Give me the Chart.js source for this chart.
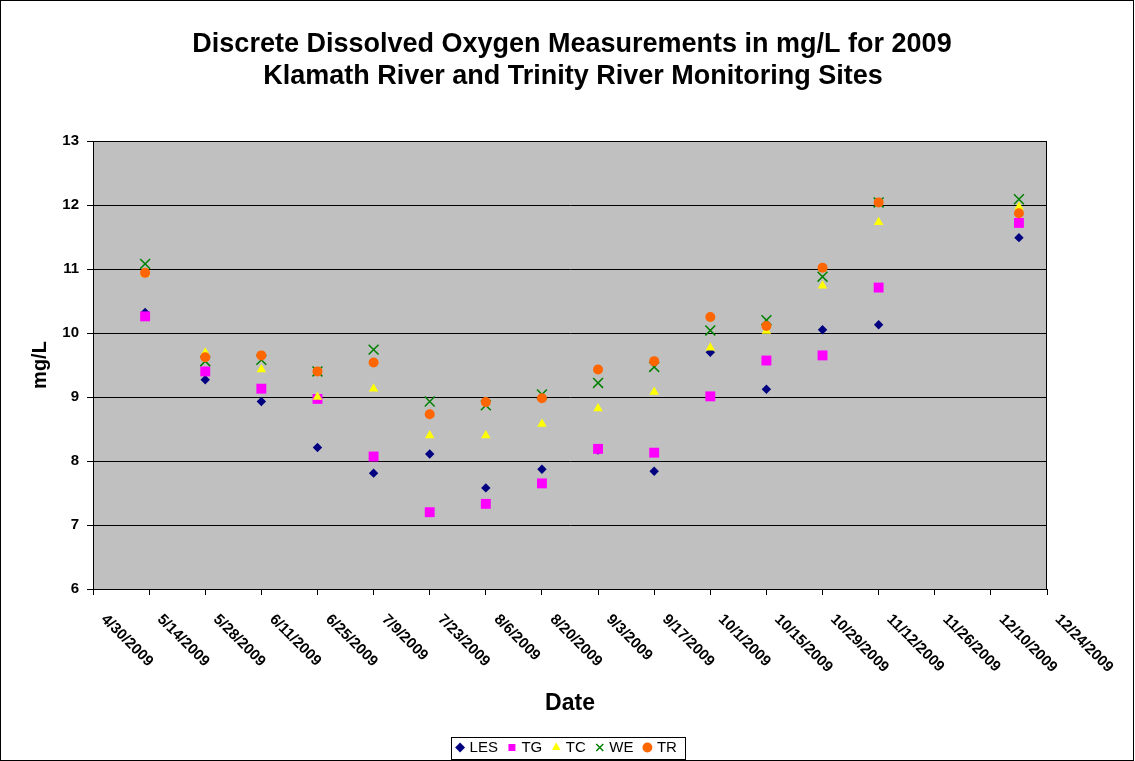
<!DOCTYPE html>
<html><head><meta charset="utf-8">
<script src="https://cdn.jsdelivr.net/npm/chart.js@4.4.1/dist/chart.umd.min.js"></script>
<style>html,body{margin:0;padding:0;background:#fff}canvas{display:block}</style>
</head><body>
<canvas id="c" width="1135" height="761" style="width:1135px;height:761px"></canvas>
<script>
const titleLines = ['Discrete Dissolved Oxygen Measurements in mg/L for 2009', 'Klamath River and Trinity River Monitoring Sites'];
const xAxisTitle = 'Date';
const yAxisTitle = 'mg/L';
const startDate = '4/30/2009';
const endDate = '12/24/2009';
const xTickLabels = ['4/30/2009','5/14/2009','5/28/2009','6/11/2009','6/25/2009','7/9/2009','7/23/2009','8/6/2009','8/20/2009','9/3/2009','9/17/2009','10/1/2009','10/15/2009','10/29/2009','11/12/2009','11/26/2009','12/10/2009','12/24/2009'];
const sampleDates = ['5/13/2009','5/28/2009','6/11/2009','6/25/2009','7/9/2009','7/23/2009','8/6/2009','8/20/2009','9/3/2009','9/17/2009','10/1/2009','10/15/2009','10/29/2009','11/12/2009','12/17/2009'];
const LES = [10.32, 9.27, 8.93, 8.21, 7.81, 8.11, 7.58, 7.87, 8.17, 7.84, 9.70, 9.12, 10.05, 10.13, 11.49];
const TG  = [10.26, 9.40, 9.13, 8.97, 8.07, 7.20, 7.33, 7.65, 8.19, 8.13, 9.01, 9.57, 9.65, 10.71, 11.72];
const TC  = [10.92, 9.69, 9.43, 9.00, 9.13, 8.40, 8.40, 8.58, 8.82, 9.08, 9.77, 10.03, 10.74, 11.73, 11.97];
const WE  = [11.08, 9.56, 9.58, 9.40, 9.74, 8.93, 8.87, 9.04, 9.22, 9.47, 10.04, 10.20, 10.88, 12.04, 12.09];
const TR  = [10.94, 9.62, 9.65, 9.40, 9.54, 8.73, 8.92, 8.98, 9.43, 9.56, 10.25, 10.11, 11.02, 12.04, 11.87];
const yMin = 6, yMax = 13, yStep = 1, xStepDays = 14;

function toUTC(s){ const p = s.split('/').map(Number); return Date.UTC(p[2], p[0]-1, p[1]); }
function dayOffset(s){ return Math.round((toUTC(s) - toUTC(startDate)) / 86400000); }
function pts(vals){ return sampleDates.map((d,i)=>({x: dayOffset(d), y: vals[i]})); }

const FONT = 'Arial, "Liberation Sans", Helvetica, sans-serif';

const datasets = [
  {label:'LES', data:pts(LES), pointStyle:'rectRot', pointRadius:4.7, backgroundColor:'#000080', borderColor:'#000080', borderWidth:0, order:5},
  {label:'TG',  data:pts(TG),  pointStyle:'rect', pointRadius:7, backgroundColor:'#FF00FF', borderColor:'#FF00FF', borderWidth:0, order:4},
  {label:'TC',  data:pts(TC),  pointStyle:'triangle', pointRadius:5.5, backgroundColor:'#FFFF00', borderColor:'#FFFF00', borderWidth:0, order:3},
  {label:'WE',  data:pts(WE),  pointStyle:'crossRot', pointRadius:7, backgroundColor:'#008000', borderColor:'#008000', borderWidth:1.5, order:2},
  {label:'TR',  data:pts(TR),  pointStyle:'circle', pointRadius:5, backgroundColor:'#FF6600', borderColor:'#FF6600', borderWidth:0, order:1}
];
datasets.forEach(d=>{ d.showLine=false; d.pointHoverRadius=d.pointRadius; });

const deco = {
  id:'deco',
  beforeDraw(chart){
    const ctx = chart.ctx, a = chart.chartArea;
    ctx.save();
    ctx.fillStyle = '#fff'; ctx.fillRect(0,0,chart.width,chart.height);
    ctx.fillStyle = '#C0C0C0'; ctx.fillRect(a.left, a.top, a.right-a.left, a.bottom-a.top);
    ctx.restore();
  },
  beforeDatasetsDraw(chart){
    const ctx = chart.ctx, a = chart.chartArea;
    ctx.save(); ctx.strokeStyle='#000'; ctx.lineWidth=1;
    ctx.strokeRect(Math.round(a.left)+0.5, Math.round(a.top)+0.5, Math.round(a.right-a.left)-1, Math.round(a.bottom-a.top));
    ctx.restore();
  },
  afterDraw(chart){
    const ctx = chart.ctx;
    ctx.save();
    // outer border
    ctx.strokeStyle='#000'; ctx.lineWidth=1;
    ctx.strokeRect(0.5,0.5,chart.width-2,chart.height-1);
    // title
    ctx.fillStyle='#000'; ctx.textAlign='center'; ctx.textBaseline='middle';
    ctx.font = 'bold 27px ' + FONT;
    ctx.fillText(titleLines[0], 572, 45);
    ctx.fillText(titleLines[1], 573, 77);
    // x tick labels rotated 45deg
    const xs = chart.scales.x;
    ctx.font = 'bold 15px ' + FONT;
    ctx.textAlign='left'; ctx.textBaseline='middle';
    xs.ticks.forEach((t,i)=>{
      const lbl = xTickLabels[i]; if(!lbl) return;
      const px = xs.getPixelForValue(t.value);
      ctx.save(); ctx.translate(px+10.5, 617); ctx.rotate(Math.PI/4); ctx.fillText(lbl,0,0); ctx.restore();
    });
    // legend border
    const hb = chart.legend && chart.legend.legendHitBoxes;
    if (hb && hb.length){
      const first = hb[0], last = hb[hb.length-1];
      const cy = first.top + first.height/2;
      const l = first.left - 7, r = last.left + last.width + 8;
      ctx.strokeStyle='#000'; ctx.lineWidth=1;
      ctx.strokeRect(Math.round(l)+0.5, Math.round(cy-11)+0.5, Math.round(r-l), 22);
    }
    ctx.restore();
  }
};

new Chart(document.getElementById('c'), {
  type:'scatter',
  data:{datasets},
  plugins:[deco],
  options:{
    responsive:false, animation:false, devicePixelRatio:1,
    layout:{padding:{top:141, left:0, right:0, bottom:-4}},
    plugins:{
      title:{display:false},
      tooltip:{enabled:false},
      legend:{position:'bottom', labels:{usePointStyle:true, boxWidth:4, boxHeight:7, padding:12, color:'#000',
        font:{family:FONT, size:15}, sort:(a,b)=>a.datasetIndex-b.datasetIndex}}
    },
    scales:{
      x:{type:'linear', position:'bottom', min:dayOffset(startDate), max:dayOffset(endDate),
        ticks:{stepSize:xStepDays, display:false},
        grid:{drawOnChartArea:false, drawTicks:true, tickLength:6, color:'#000'},
        border:{display:true, color:'#000', width:1},
        title:{display:true, text:xAxisTitle, color:'#000', font:{family:FONT, size:23, weight:'bold'}, padding:{top:0, bottom:11}},
        afterFit(s){ s.height = s.chart.height + 4 - (s.chart.legend ? s.chart.legend.height : 0) - 589; }
      },
      y:{position:'left', min:yMin, max:yMax,
        ticks:{stepSize:yStep, color:'#000', font:{family:FONT, size:15, weight:'bold'}, padding:8},
        grid:{color:'#000', tickLength:6, lineWidth:1},
        border:{display:true, color:'#000', width:1},
        title:{display:true, text:yAxisTitle, color:'#000', font:{family:FONT, size:20, weight:'bold'}, padding:{top:28, bottom:0}},
        afterFit(s){ s.width = 93; }
      },
      yR:{position:'right', display:true, grid:{display:false}, ticks:{display:false}, border:{display:false},
        afterFit(s){ s.width = 88; }
      }
    }
  }
});
</script>
</body></html>
